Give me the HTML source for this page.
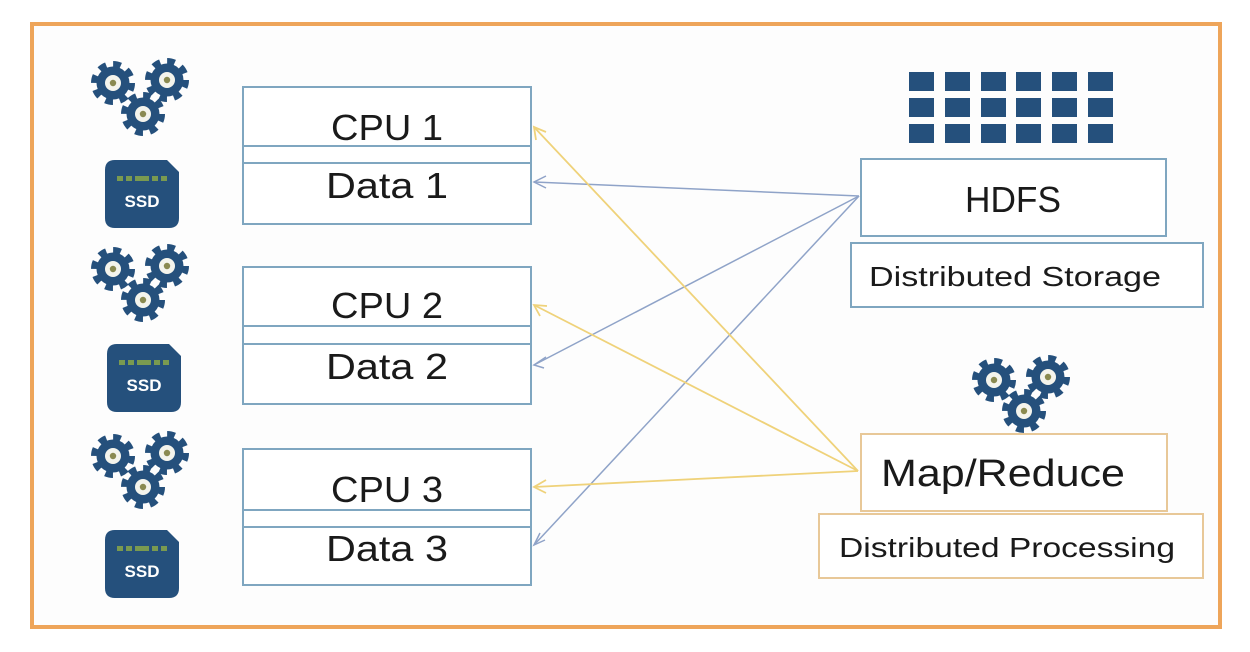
<!DOCTYPE html>
<html><head><style>
body{margin:0;background:#fff;}
svg{display:block;font-family:"Liberation Sans",sans-serif;}
</style></head><body>
<svg width="1250" height="652" viewBox="0 0 1250 652" xmlns="http://www.w3.org/2000/svg">
<defs>
<g id="gear">
<circle r="17" fill="none" stroke="#25507c" stroke-width="10" stroke-dasharray="7 6.35" />
<circle r="16.5" fill="#25507c"/>
<circle r="8" fill="#f4f4ec"/>
<circle r="3.2" fill="#8a8a50"/>
</g>
<g id="gears">
<use href="#gear" x="28" y="25"/>
<use href="#gear" x="82" y="22"/>
<use href="#gear" x="58" y="56"/>
</g>
<g id="ssd">
<path d="M0,10 Q0,0 10,0 L62,0 L74,12 L74,58 Q74,68 64,68 L10,68 Q0,68 0,58 Z" fill="#25507c"/>
<rect x="12" y="16" width="6" height="5" fill="#7a9a50"/><rect x="21" y="16" width="6" height="5" fill="#7a9a50"/><rect x="30" y="16" width="14" height="5" fill="#7a9a50"/><rect x="47" y="16" width="6" height="5" fill="#7a9a50"/><rect x="56" y="16" width="6" height="5" fill="#7a9a50"/>
<text x="37" y="47" text-anchor="middle" font-size="17" font-weight="bold" fill="#fff">SSD</text>
</g>
</defs>
<rect x="0" y="0" width="1250" height="652" fill="#fff"/>
<rect x="32" y="24" width="1188" height="603" fill="#fdfdfd" stroke="#eea55a" stroke-width="4"/>

<use href="#gears" x="85" y="58"/>
<use href="#gears" x="85" y="244"/>
<use href="#gears" x="85" y="431"/>
<use href="#ssd" x="105" y="160"/>
<use href="#ssd" x="107" y="344"/>
<use href="#ssd" x="105" y="530"/>
<use href="#gears" x="966" y="355"/>

<g fill="#fff" stroke="#7fa6c0" stroke-width="2">
<rect x="243" y="87" width="288" height="137"/>
<line x1="243" y1="146" x2="531" y2="146"/><line x1="243" y1="163" x2="531" y2="163"/>
<rect x="243" y="267" width="288" height="137"/>
<line x1="243" y1="326" x2="531" y2="326"/><line x1="243" y1="344" x2="531" y2="344"/>
<rect x="243" y="449" width="288" height="136"/>
<line x1="243" y1="510" x2="531" y2="510"/><line x1="243" y1="527" x2="531" y2="527"/>
<rect x="861" y="159" width="305" height="77"/>
<rect x="851" y="243" width="352" height="64"/>
</g>
<g fill="#fff" stroke="#e8c898" stroke-width="2">
<rect x="861" y="434" width="306" height="77"/>
<rect x="819" y="514" width="384" height="64"/>
</g>
<g fill="#25507c">
<rect x="909" y="72" width="25" height="19"/><rect x="945" y="72" width="25" height="19"/><rect x="981" y="72" width="25" height="19"/><rect x="1016" y="72" width="25" height="19"/><rect x="1052" y="72" width="25" height="19"/><rect x="1088" y="72" width="25" height="19"/>
<rect x="909" y="98" width="25" height="19"/><rect x="945" y="98" width="25" height="19"/><rect x="981" y="98" width="25" height="19"/><rect x="1016" y="98" width="25" height="19"/><rect x="1052" y="98" width="25" height="19"/><rect x="1088" y="98" width="25" height="19"/>
<rect x="909" y="124" width="25" height="19"/><rect x="945" y="124" width="25" height="19"/><rect x="981" y="124" width="25" height="19"/><rect x="1016" y="124" width="25" height="19"/><rect x="1052" y="124" width="25" height="19"/><rect x="1088" y="124" width="25" height="19"/>
</g>

<g stroke="#8fa3c8" stroke-width="1.5" fill="none">
<line x1="859" y1="196" x2="534" y2="182"/>
<line x1="859" y1="196" x2="534" y2="365"/>
<line x1="859" y1="196" x2="534" y2="545"/>
<path d="M546,176 L534,182 L546,188"/><path d="M546,357 L534,365 L544,368"/><path d="M540,533 L534,545 L545,540"/>
</g>
<g stroke="#efd27a" stroke-width="1.8" fill="none">
<line x1="858" y1="471" x2="534" y2="127"/>
<line x1="858" y1="471" x2="534" y2="305"/>
<line x1="858" y1="471" x2="534" y2="487"/>
<path d="M536,140 L534,127 L546,132"/><path d="M540,316 L534,305 L547,306"/><path d="M546,480 L534,487 L546,493"/>
</g>

<g fill="#1a1a1a" text-anchor="middle" lengthAdjust="spacingAndGlyphs">
<text x="387" y="140" font-size="36" textLength="112" lengthAdjust="spacingAndGlyphs">CPU 1</text>
<text x="387" y="198" font-size="36" textLength="122" lengthAdjust="spacingAndGlyphs">Data 1</text>
<text x="387" y="318" font-size="36" textLength="112" lengthAdjust="spacingAndGlyphs">CPU 2</text>
<text x="387" y="379" font-size="36" textLength="122" lengthAdjust="spacingAndGlyphs">Data 2</text>
<text x="387" y="502" font-size="36" textLength="112" lengthAdjust="spacingAndGlyphs">CPU 3</text>
<text x="387" y="561" font-size="36" textLength="122" lengthAdjust="spacingAndGlyphs">Data 3</text>
<text x="1013" y="212" font-size="36" textLength="96" lengthAdjust="spacingAndGlyphs">HDFS</text>
<text x="1015" y="286" font-size="28" textLength="292" lengthAdjust="spacingAndGlyphs">Distributed Storage</text>
<text x="1003" y="486" font-size="38" textLength="244" lengthAdjust="spacingAndGlyphs">Map/Reduce</text>
<text x="1007" y="557" font-size="28" textLength="336" lengthAdjust="spacingAndGlyphs">Distributed Processing</text>
</g>
</svg>
</body></html>
